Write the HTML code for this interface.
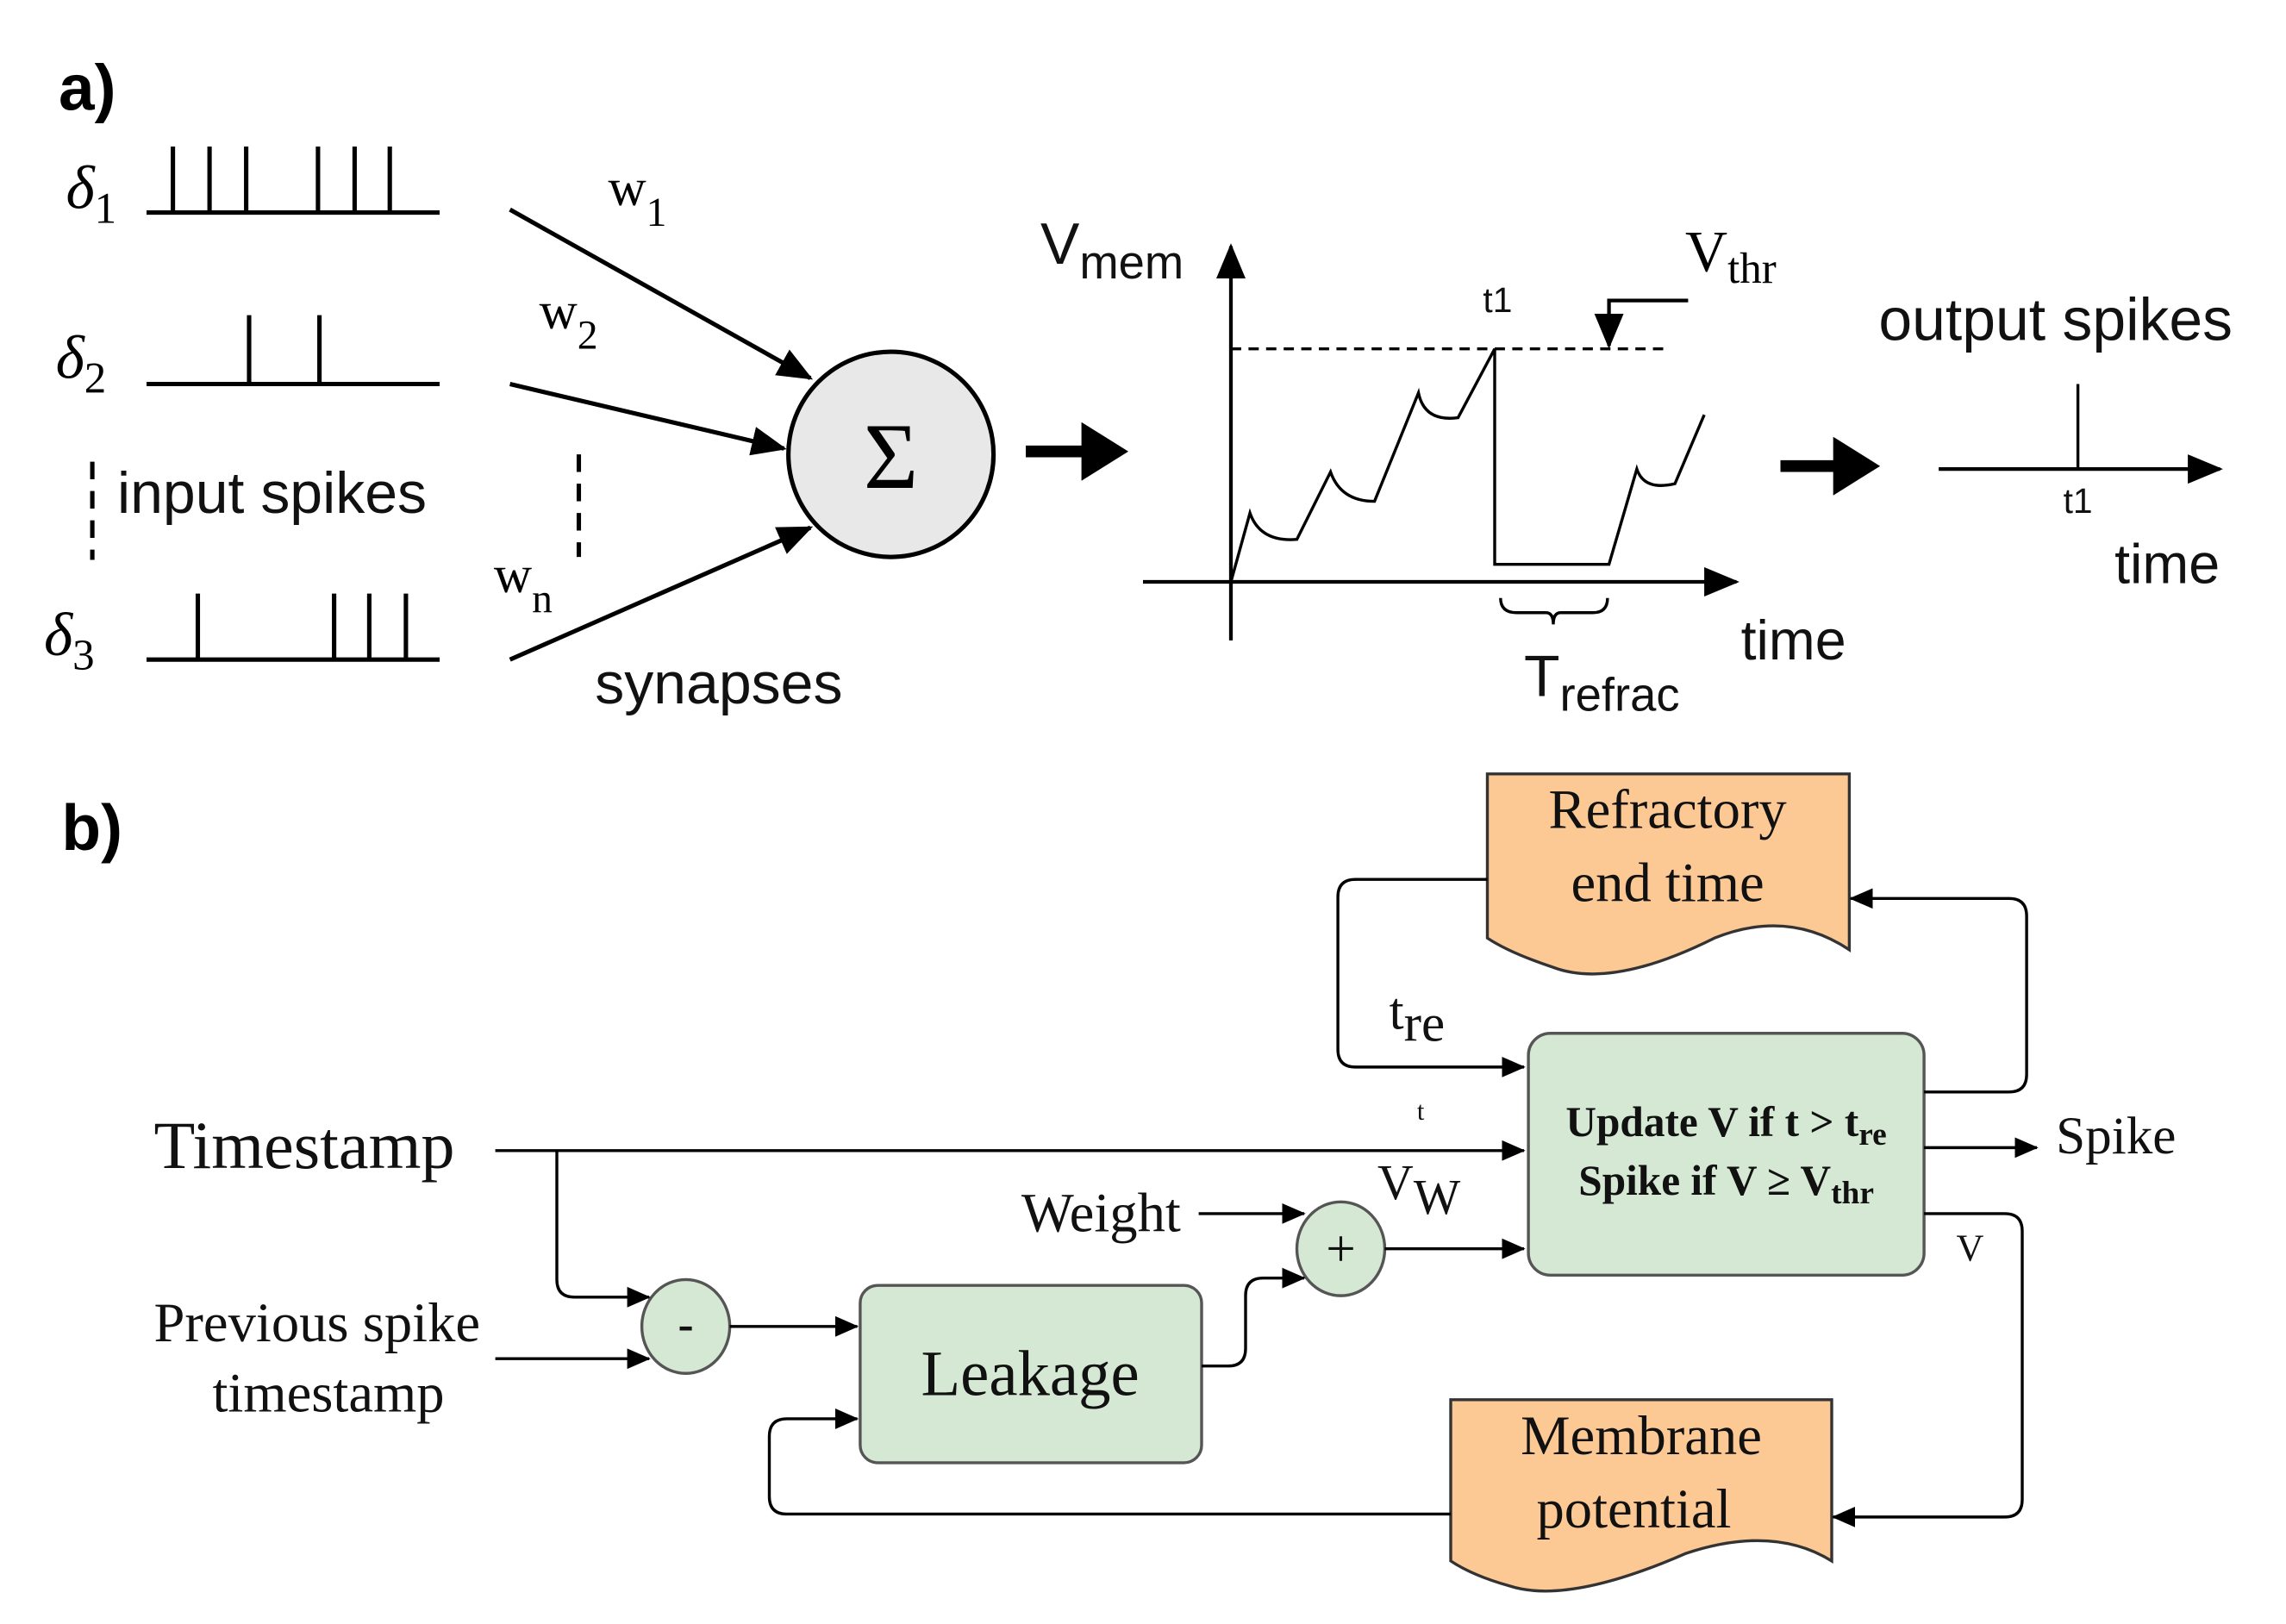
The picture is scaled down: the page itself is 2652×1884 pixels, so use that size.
<!DOCTYPE html>
<html><head><meta charset="utf-8"><style>html,body{margin:0;padding:0;background:#fff}svg{display:block}</style></head>
<body>
<svg width="2652" height="1884" viewBox="0 0 1560 1108" preserveAspectRatio="none" xmlns="http://www.w3.org/2000/svg">
<defs>
<marker id="ah" markerWidth="16" markerHeight="16" refX="15" refY="8" orient="auto" markerUnits="userSpaceOnUse"><path d="M0,1 L16,8 L0,15 z" fill="#000"/></marker>
<marker id="ahm" markerWidth="24" markerHeight="24" refX="22" refY="12" orient="auto" markerUnits="userSpaceOnUse"><path d="M0,2 L24,12 L0,22 z" fill="#000"/></marker>
</defs>
<g font-family="Liberation Sans, sans-serif">
<text x="40" y="75" font-size="44" font-weight="bold">a)</text>
<text x="42" y="580" font-size="44" font-weight="bold">b)</text>
</g>
<g stroke="#000" stroke-width="3" fill="none">
<path d="M100,145H300 M118,145V100 M143,145V100 M168,145V100 M217,145V100 M242,145V100 M266,145V100"/>
<path d="M100,262H300 M170,262V215 M218,262V215"/>
<path d="M100,450H300 M135,450V405 M228,450V405 M252,450V405 M277,450V405"/>
<path d="M63,315V382 M395,310V380" stroke-dasharray="12,8"/>
<line x1="348" y1="143" x2="553" y2="258" marker-end="url(#ahm)"/>
<line x1="348" y1="262" x2="535" y2="306" marker-end="url(#ahm)"/>
<line x1="348" y1="450" x2="553" y2="360" marker-end="url(#ahm)"/>
</g>
<g font-family="Liberation Serif, serif" font-style="italic">
<text x="45" y="142" font-size="42">δ<tspan font-size="30" dy="10" font-style="normal">1</tspan></text>
<text x="38" y="258" font-size="42">δ<tspan font-size="30" dy="10" font-style="normal">2</tspan></text>
<text x="30" y="447" font-size="42">δ<tspan font-size="30" dy="10" font-style="normal">3</tspan></text>
</g>
<g font-family="Liberation Serif, serif" font-size="36">
<text x="415" y="140">w<tspan font-size="28" dy="14">1</tspan></text>
<text x="368" y="224">w<tspan font-size="28" dy="14">2</tspan></text>
<text x="337" y="404">w<tspan font-size="28" dy="14">n</tspan></text>
</g>
<g font-family="Liberation Sans, sans-serif" font-size="36" fill="#111">
<text x="80" y="350" font-size="40">input spikes</text>
<text x="406" y="480" font-size="40">synapses</text>
<text x="710" y="180" font-size="40">V<tspan font-size="32" dy="10">mem</tspan></text>
<text x="1188" y="450" font-size="38">time</text>
<text x="1040" y="475" font-size="40">T<tspan font-size="32" dy="10">refrac</tspan></text>
<text x="1282" y="232" font-size="41">output spikes</text>
<text x="1443" y="398" font-size="38">time</text>
<text x="1012" y="213" font-size="24">t1</text>
<text x="1408" y="350" font-size="24">t1</text>
</g>
<circle cx="608" cy="310" r="70" fill="#e8e8e8" stroke="#000" stroke-width="3"/>
<text x="608" y="333" font-family="Liberation Serif, serif" font-size="64" text-anchor="middle">Σ</text>
<line x1="700" y1="308" x2="742" y2="308" stroke="#000" stroke-width="8"/>
<polygon points="738,288 770,308 738,328" fill="#000"/>
<line x1="1215" y1="318" x2="1255" y2="318" stroke="#000" stroke-width="8"/>
<polygon points="1251,298 1283,318 1251,338" fill="#000"/>
<g stroke="#000" stroke-width="2.5" fill="none">
<line x1="840" y1="437" x2="840" y2="168" marker-end="url(#ahm)"/>
<line x1="780" y1="397" x2="1185" y2="397" marker-end="url(#ahm)"/>
<line x1="840" y1="238" x2="1140" y2="238" stroke-dasharray="7,5" stroke-width="2"/>
<path d="M840,397 L853,350 Q860,370 885,368 L908,322 Q915,342 938,342 L968,268 Q972,288 995,285 L1020,238 L1020,385 L1098,385 L1117,320 Q1122,335 1143,330 L1163,283" stroke-width="2"/>
<path d="M1152,205 H1098 V236" marker-end="url(#ahm)"/>
<path d="M1024,408 Q1024,418 1035,418 H1055 Q1060,418 1060,426 Q1060,418 1065,418 H1087 Q1097,418 1097,408" stroke-width="2"/>
<line x1="1323" y1="320" x2="1515" y2="320" marker-end="url(#ahm)"/>
<line x1="1418" y1="262" x2="1418" y2="320" stroke-width="2"/>
</g>
<text x="1150" y="185" font-family="Liberation Serif, serif" font-size="40">V<tspan font-size="30" dy="8">thr</tspan></text>

<path d="M1015,528 H1262 V648 Q1220,620 1170,640 Q1100,675 1060,660 Q1030,650 1015,640 Z" fill="#fcc995" stroke="#333" stroke-width="2"/>
<path d="M990,955 H1250 V1065 Q1210,1040 1150,1060 Q1070,1095 1030,1082 Q1005,1075 990,1065 Z" fill="#fcc995" stroke="#333" stroke-width="2"/>
<rect x="1043" y="705" width="270" height="165" rx="15" fill="#d5e8d4" stroke="#555" stroke-width="2"/>
<rect x="587" y="877" width="233" height="121" rx="12" fill="#d5e8d4" stroke="#555" stroke-width="2"/>
<ellipse cx="468" cy="905" rx="30" ry="32" fill="#d5e8d4" stroke="#555" stroke-width="2"/>
<ellipse cx="915" cy="852" rx="30" ry="32" fill="#d5e8d4" stroke="#555" stroke-width="2"/>
<g stroke="#000" stroke-width="2" fill="none">
<path d="M1015,600 H925 Q913,600 913,612 V716 Q913,728 925,728 H1040" marker-end="url(#ah)"/>
<path d="M1313,745 H1371 Q1383,745 1383,733 V625 Q1383,613 1371,613 H1263" marker-end="url(#ah)"/>
<path d="M338,785 H1040" marker-end="url(#ah)"/>
<path d="M380,785 V873 Q380,885 392,885 H443" marker-end="url(#ah)"/>
<path d="M338,927 H443" marker-end="url(#ah)"/>
<path d="M498,905 H585" marker-end="url(#ah)"/>
<path d="M820,932 H838 Q850,932 850,920 V884 Q850,872 862,872 H890" marker-end="url(#ah)"/>
<path d="M818,828 H890" marker-end="url(#ah)"/>
<path d="M945,852 H1040" marker-end="url(#ah)"/>
<path d="M1313,783 H1390" marker-end="url(#ah)"/>
<path d="M1313,828 H1368 Q1380,828 1380,840 V1023 Q1380,1035 1368,1035 H1251" marker-end="url(#ah)"/>
<path d="M990,1033 H537 Q525,1033 525,1021 V980 Q525,968 537,968 H585" marker-end="url(#ah)"/>
</g>
<g font-family="Liberation Serif, serif" fill="#111">
<text x="1138" y="565" font-size="38" text-anchor="middle">Refractory</text>
<text x="1138" y="615" font-size="38" text-anchor="middle">end time</text>
<text x="1120" y="992" font-size="38" text-anchor="middle">Membrane</text>
<text x="1115" y="1042" font-size="38" text-anchor="middle">potential</text>
<text x="1178" y="775" font-size="29" font-weight="bold" text-anchor="middle">Update V if t &gt; t<tspan font-size="22" dy="6">re</tspan></text>
<text x="1178" y="815" font-size="29" font-weight="bold" text-anchor="middle">Spike if V ≥ V<tspan font-size="22" dy="6">thr</tspan></text>
<text x="703" y="952" font-size="44" text-anchor="middle">Leakage</text>
<text x="105" y="797" font-size="46">Timestamp</text>
<text x="105" y="915" font-size="38">Previous spike</text>
<text x="145" y="963" font-size="38">timestamp</text>
<text x="697" y="840" font-size="38">Weight</text>
<text x="1403" y="787" font-size="36">Spike</text>
<text x="1335" y="860" font-size="26">V</text>
<text x="967" y="764" font-size="18">t</text>
<text x="948" y="702" font-size="36">t<tspan dy="8">re</tspan></text>
<text x="940" y="818" font-size="34">V<tspan dy="10">W</tspan></text>
<text x="468" y="914" font-size="32" font-weight="bold" text-anchor="middle">-</text>
<text x="915" y="864" font-size="36" text-anchor="middle">+</text>
</g>
</svg>
</body></html>
